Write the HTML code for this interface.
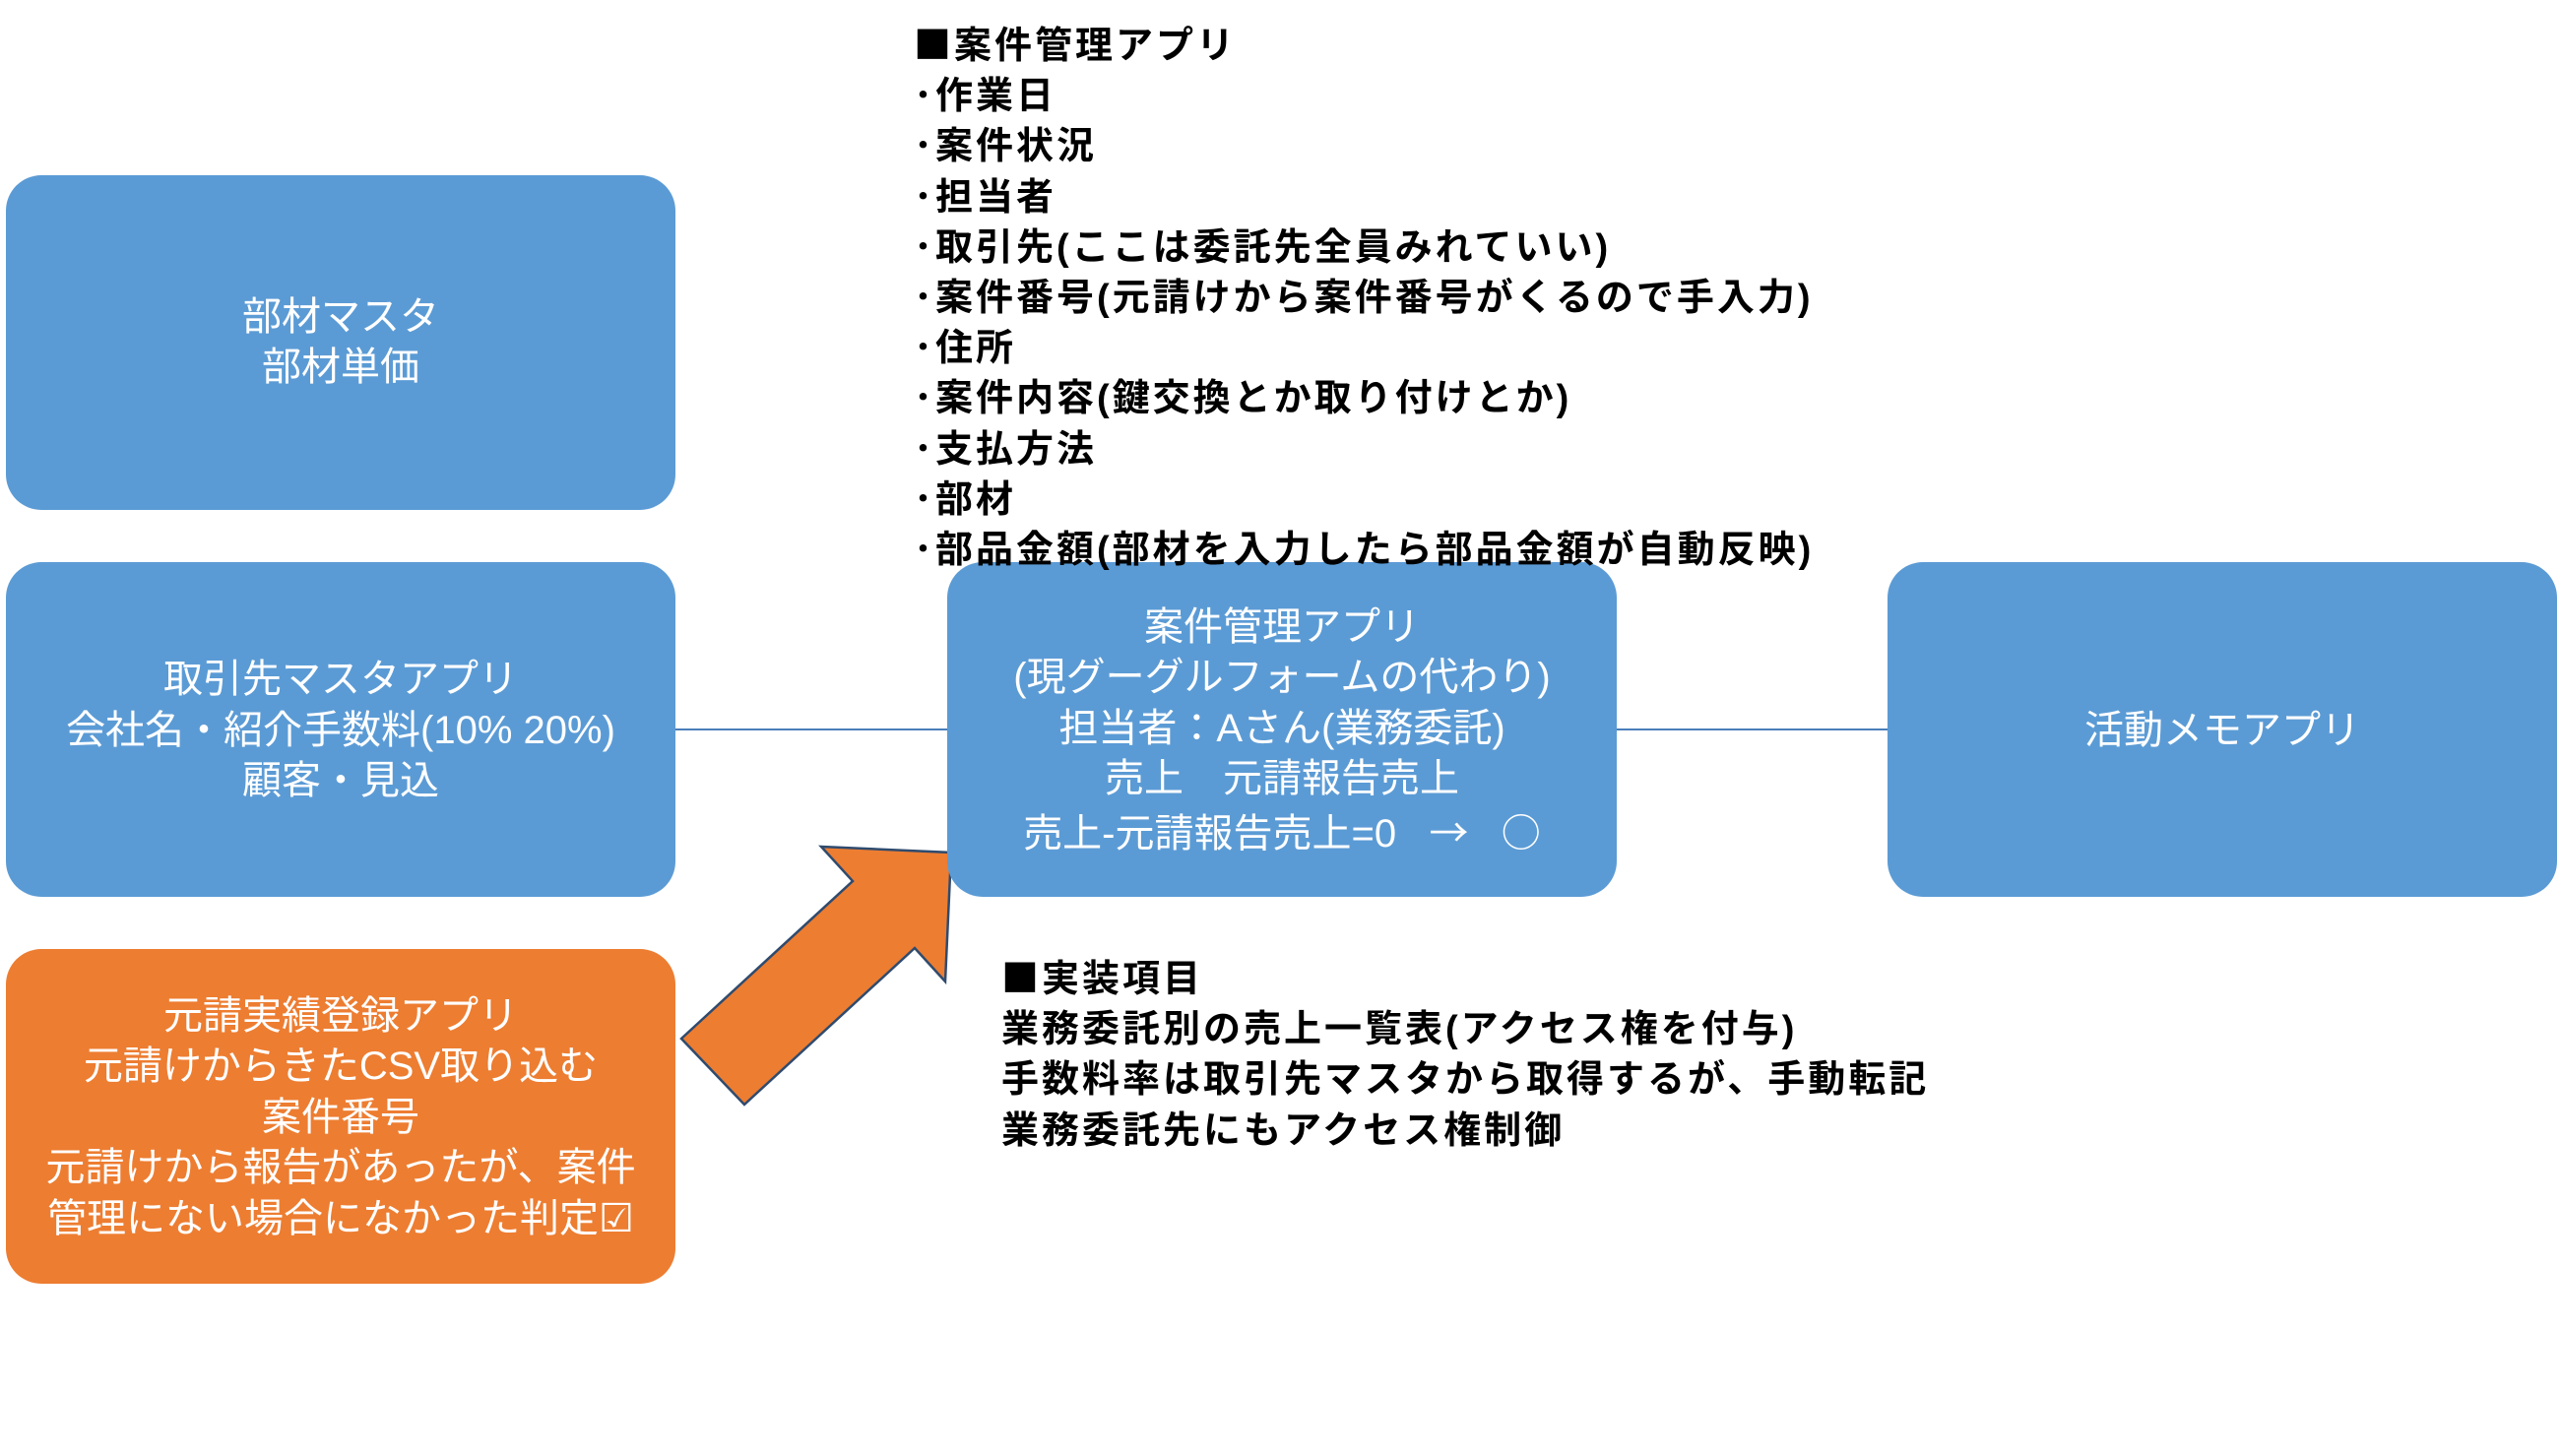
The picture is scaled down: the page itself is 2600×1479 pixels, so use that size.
<!DOCTYPE html>
<html>
<head>
<meta charset="utf-8">
<style>
  html, body { margin:0; padding:0; }
  body { width:2600px; height:1479px; background:#ffffff; position:relative; overflow:hidden;
         font-family:"Liberation Sans","Noto Sans CJK JP",sans-serif; }
  .box { position:absolute; width:680px; height:340px; border-radius:36px;
         display:flex; align-items:center; justify-content:center; text-align:center;
         color:#ffffff; font-size:40px; line-height:51.5px; white-space:nowrap;
         box-sizing:border-box; padding-top:3px; }
  .blue { background:#5B9BD5; }
  .orange { background:#ED7D31; }
  .list { position:absolute; color:#000; font-weight:700; font-size:38px; letter-spacing:3px;
          line-height:51.2px; white-space:nowrap; }
  .cjk { font-family:"Noto Sans CJK JP",sans-serif; }
  .chk { font-family:"DejaVu Sans","Noto Sans CJK JP",sans-serif; }
  svg { position:absolute; left:0; top:0; }
</style>
</head>
<body>
<svg width="2600" height="1479" viewBox="0 0 2600 1479">
  <line x1="686" y1="741" x2="962" y2="741" stroke="#4A7EBB" stroke-width="2"/>
  <line x1="1642" y1="741" x2="1917" y2="741" stroke="#4A7EBB" stroke-width="2"/>
  <polygon points="834,860 966,866 960,997 929,963 756,1122 692,1055 866,895"
           fill="#ED7D31" stroke="#2F4B6E" stroke-width="2.5" stroke-linejoin="miter"/>
</svg>

<div class="box blue" style="left:6px;top:178px;padding-top:0;"><div>部材マスタ<br>部材単価</div></div>
<div class="box blue" style="left:6px;top:571px;"><div>取引先マスタアプリ<br>会社名・紹介手数料(10% 20%)<br>顧客・見込</div></div>
<div class="box orange" style="left:6px;top:964px;"><div>元請実績登録アプリ<br>元請けからきたCSV取り込む<br>案件番号<br>元請けから報告があったが、案件<br>管理にない場合になかった判定<span class="chk">☑</span></div></div>
<div class="box blue" style="left:962px;top:571px;"><div>案件管理アプリ<br>(現グーグルフォームの代わり)<br>担当者：Aさん(業務委託)<br>売上　元請報告売上<br>売上-元請報告売上=0&nbsp;&nbsp;&nbsp;<span class="cjk">→</span>&nbsp;&nbsp;&nbsp;<span class="cjk">○</span></div></div>
<div class="box blue" style="left:1917px;top:571px;"><div>活動メモアプリ</div></div>

<div class="list" style="left:928px;top:17px;"><span class="cjk">■</span>案件管理アプリ<br>･作業日<br>･案件状況<br>･担当者<br>･取引先(ここは委託先全員みれていい)<br>･案件番号(元請けから案件番号がくるので手入力)<br>･住所<br>･案件内容(鍵交換とか取り付けとか)<br>･支払方法<br>･部材<br>･部品金額(部材を入力したら部品金額が自動反映)</div>

<div class="list" style="left:1017px;top:965px;"><span class="cjk">■</span>実装項目<br>業務委託別の売上一覧表(アクセス権を付与)<br>手数料率は取引先マスタから取得するが、手動転記<br>業務委託先にもアクセス権制御</div>
</body>
</html>
